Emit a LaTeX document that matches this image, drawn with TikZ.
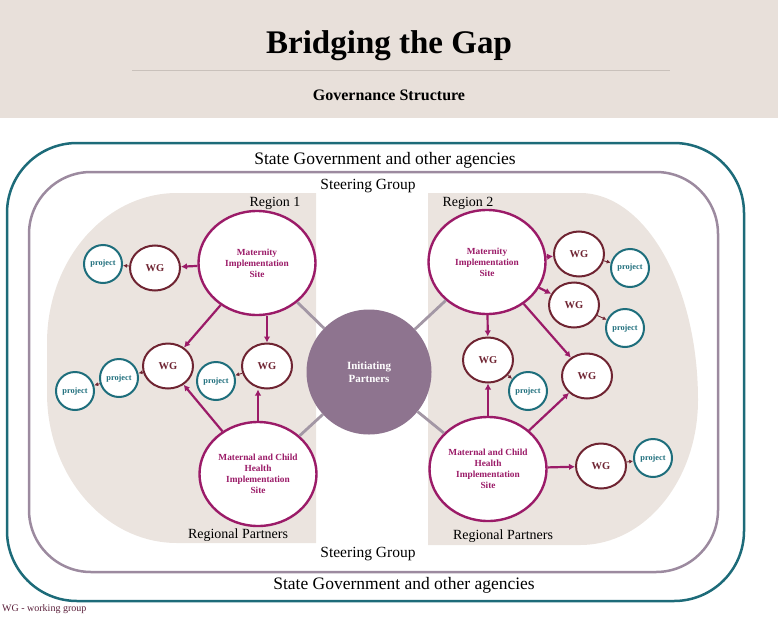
\documentclass[tikz,border=0pt]{standalone}
\usepackage{fontspec}
\setmainfont{Liberation Serif}
\usepackage{tikz}
\usetikzlibrary{arrows}
\usetikzlibrary{arrows.meta}
\usetikzlibrary{shapes.geometric}
\usepackage{xcolor}
\definecolor{bandbg}{HTML}{E8E0DA}
\definecolor{bandline}{HTML}{C9C1BB}
\definecolor{regionbg}{HTML}{EBE4DF}
\definecolor{stateteal}{HTML}{1D6B79}
\definecolor{steerline}{HTML}{9C8A9F}
\definecolor{sitemag}{HTML}{9B1B68}
\definecolor{wgbrown}{HTML}{6F2432}
\definecolor{projteal}{HTML}{1E6E7C}
\definecolor{initfill}{HTML}{8E748F}
\definecolor{linkgrey}{HTML}{A397A5}
\definecolor{notemaroon}{HTML}{5A1F3A}
\newcommand{\titlefont}{\fontsize{33}{36}\selectfont\bfseries}
\newcommand{\subfont}{\fontsize{16}{18}\selectfont\bfseries}
\newcommand{\statefont}{\fontsize{17.5}{20}\selectfont}
\newcommand{\steerfont}{\fontsize{15.5}{18}\selectfont}
\newcommand{\regfont}{\fontsize{14}{16}\selectfont}
\newcommand{\sitefont}{\fontsize{9.3}{11}\selectfont\bfseries}
\newcommand{\wgfont}{\fontsize{10.5}{12}\selectfont\bfseries}
\newcommand{\projfont}{\fontsize{8.3}{10}\selectfont\bfseries}

\begin{document}
\begin{tikzpicture}[x=1pt,y=-1pt]
\tikzstyle{site}=[ellipse,draw=sitemag,line width=2.4pt,fill=white,minimum width=117pt,minimum height=104pt,inner sep=0pt,align=center,text=sitemag,font=\sitefont]
\tikzstyle{wg}=[ellipse,draw=wgbrown,line width=2pt,fill=white,minimum width=50pt,minimum height=45pt,inner sep=0pt,text=wgbrown,font=\wgfont]
\tikzstyle{proj}=[circle,draw=projteal,line width=2pt,fill=white,minimum size=38pt,inner sep=0pt,text=projteal,font=\projfont]
\tikzstyle{sitearrow}=[draw=sitemag,line width=2.2pt,arrows={-Latex[length=6pt,width=6.5pt]}]
\tikzstyle{wgarrow}=[draw=wgbrown,line width=0.9pt,arrows={-Latex[length=4pt,width=4pt]}]
\tikzstyle{link}=[draw=linkgrey,line width=2.8pt]
\useasboundingbox (0,0) rectangle (778,618);

\fill[bandbg] (0,0) rectangle (778,118);
\draw[bandline,line width=0.8pt] (132,70) -- (670,70);
\node (title) at (389,46) {\titlefont Bridging the Gap};
\node (sub) at (389,95) {\subfont Governance Structure};

\fill[regionbg] (316,193) -- (177,193)
  arc[start angle=90,end angle=180,x radius=130pt,y radius=150pt] -- (47,393)
  arc[start angle=180,end angle=270,x radius=130pt,y radius=150pt] -- (316,543) -- cycle;
\fill[regionbg] (428,193) -- (580,193)
  arc[start angle=90,end angle=0,x radius=118pt,y radius=207pt]
  arc[start angle=0,end angle=-90,x radius=118pt,y radius=145pt] -- (428,545) -- cycle;

\draw[stateteal,line width=2.5pt,rounded corners=70pt] (7,143) rectangle (744,601);
\draw[steerline,line width=2.5pt,rounded corners=62pt] (29,172) rectangle (718,572);

\node (statetop) at (385,160) {\statefont State Government and other agencies};
\node (statebot) at (404,585) {\statefont State Government and other agencies};
\node (steertop) at (368,186) {\steerfont Steering Group};
\node (steerbot) at (368,554) {\steerfont Steering Group};
\node (reg1) at (275,203) {\regfont Region 1};
\node (reg2) at (468,203) {\regfont Region 2};
\node (part1) at (238,535) {\regfont Regional Partners};
\node (part2) at (503,536) {\regfont Regional Partners};

\node[circle,fill=initfill,minimum size=125pt,inner sep=0pt,align=center,text=white,font=\fontsize{11}{13}\selectfont\bfseries] (init) at (369,372) {Initiating\\Partners};

\node[site] (mat1) at (257,263) {Maternity\\Implementation\\Site};
\node[site] (mch1) at (258,474) {Maternal and Child\\Health\\Implementation\\Site};
\node[wg] (wg1) at (155,268) {WG};
\node[wg] (wg2) at (168,366) {WG};
\node[wg] (wg3) at (267,366) {WG};
\node[proj] (pr1) at (103,264) {project};
\node[proj] (pr2) at (119,378) {project};
\node[proj] (pr3) at (75,391) {project};
\node[proj] (pr4) at (216,381) {project};

\node[site] (mat2) at (487,262) {Maternity\\Implementation\\Site};
\node[site] (mch2) at (488,469) {Maternal and Child\\Health\\Implementation\\Site};
\node[wg] (wg4) at (579,254) {WG};
\node[wg] (wg5) at (574,305) {WG};
\node[wg] (wg6) at (488,360) {WG};
\node[wg] (wg7) at (587,376) {WG};
\node[wg] (wg8) at (601,466) {WG};
\node[proj] (pr5) at (630,268) {project};
\node[proj] (pr6) at (625,328) {project};
\node[proj] (pr7) at (528,391) {project};
\node[proj] (pr8) at (653,458) {project};

\node[text=notemaroon,font=\fontsize{10}{12}\selectfont,anchor=west,inner sep=0pt] (note) at (2,609) {WG - working group};

\path[link] (mat1) -- (init);
\path[link] (mch1) -- (init);
\path[link] (mat2) -- (init);
\path[link] (mch2) -- (init);

\path[sitearrow] (mat1) -- (wg1);
\path[sitearrow] (mat1) -- (wg2);
\path[sitearrow] (wg3.north |- mat1.south) -- (wg3.north);
\path[sitearrow] (mch1) -- (wg2);
\path[sitearrow] (mch1.north) -- (mch1.north |- wg3.south);
\path[sitearrow] (mat2) -- (wg4);
\path[sitearrow] (mat2) -- (wg5);
\path[sitearrow] (mat2) -- (wg6);
\path[sitearrow] (mat2) -- (wg7);
\path[sitearrow] (mch2) -- (wg6);
\path[sitearrow] (mch2) -- (wg7);
\path[sitearrow] (mch2) -- (wg8);

\path[wgarrow] (wg1) -- (pr1);
\path[wgarrow] (wg2) -- (pr2);
\path[wgarrow] (pr2) -- (pr3);
\path[wgarrow] (wg3) -- (pr4);
\path[wgarrow] (wg4) -- (pr5);
\path[wgarrow] (wg5) -- (pr6);
\path[wgarrow] (wg6) -- (pr7);
\path[wgarrow] (wg8) -- (pr8);
\end{tikzpicture}
\end{document}
